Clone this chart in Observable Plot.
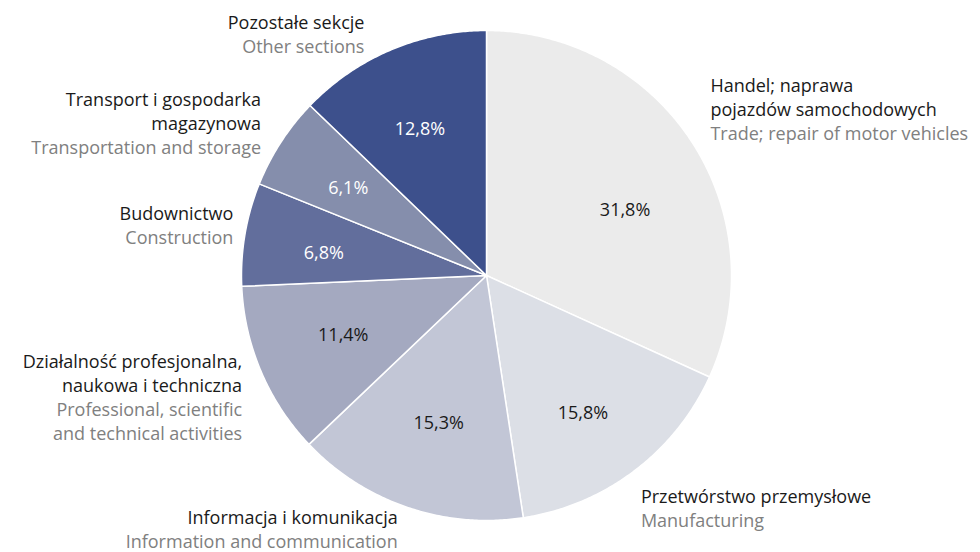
<!DOCTYPE html>
<html>
<head>
<meta charset="utf-8">
<script src="https://cdn.jsdelivr.net/npm/d3@7"></script>
<script src="https://cdn.jsdelivr.net/npm/@observablehq/plot@0.6"></script>
<style>
  html, body { margin: 0; padding: 0; background: #fff; }
  #chart svg { display: block; }
</style>
</head>
<body>
<div id="chart"></div>
<script>
// ---- data ----
const namesPl = [
  "Handel; naprawa\npojazdów samochodowych",
  "Przetwórstwo przemysłowe",
  "Informacja i komunikacja",
  "Działalność profesjonalna,\nnaukowa i techniczna",
  "Budownictwo",
  "Transport i gospodarka\nmagazynowa",
  "Pozostałe sekcje"
];
const namesEn = [
  "Trade; repair of motor vehicles",
  "Manufacturing",
  "Information and communication",
  "Professional, scientific\nand technical activities",
  "Construction",
  "Transportation and storage",
  "Other sections"
];
const shares = [31.8, 15.8, 15.3, 11.4, 6.8, 6.1, 12.8];
const sliceColors = ["#ebebeb", "#dcdfe6", "#c2c6d6", "#a4a9c0", "#626e9c", "#858eac", "#3d508c"];
const valueColors = ["#1a1a1a", "#1a1a1a", "#1a1a1a", "#1a1a1a", "#ffffff", "#ffffff", "#ffffff"];

// ---- layout ----
const W = 980, H = 552;
const cx = 486, cy = 275, R = 245;
const valueR = 160, labelR = 271;
const FS = 18, LH = 24 / 18;
// small per-label nudges (pixels) from the computed anchor positions
const valueNudge = [[4, 21], [0, 10], [4, -4], [4, -3], [-5, 5], [-4, 0], [-4, 1]];
const labelNudge = [[-4, -21], [-9, 16], [-1, -4], [5, 15], [14, -5], [2, -6], [-16, 7]];

const pie = d3.pie().sort(null).value(d => d)(shares);
const keys = shares.map((_, i) => "s" + i);

// slice polygons
const poly = [];
pie.forEach((p, i) => {
  poly.push({k: keys[i], x: cx, y: cy});
  const n = Math.max(4, Math.ceil((p.endAngle - p.startAngle) / (Math.PI / 360)));
  for (let j = 0; j <= n; j++) {
    const a = p.startAngle + (p.endAngle - p.startAngle) * j / n;
    poly.push({k: keys[i], x: cx + R * Math.sin(a), y: cy - R * Math.cos(a)});
  }
});

const fmt = v => v.toFixed(1).replace(".", ",") + "%";
const labels = pie.map((p, i) => {
  const a = (p.startAngle + p.endAngle) / 2;
  const pl = namesPl[i].split("\n").length;
  const en = namesEn[i].split("\n").length;
  return {
    vx: cx + valueR * Math.sin(a) + valueNudge[i][0], vy: cy - valueR * Math.cos(a) + valueNudge[i][1],
    lx: cx + labelR * Math.sin(a) + labelNudge[i][0], ly: cy - labelR * Math.cos(a) + labelNudge[i][1],
    anchor: Math.sin(a) >= 0 ? "start" : "end",
    pl: namesPl[i] + "\n".repeat(en),
    en: "\n".repeat(pl) + namesEn[i],
    val: fmt(shares[i]),
    vc: valueColors[i]
  };
});

const font = "'Open Sans', sans-serif";
const side = s => labels.filter(d => d.anchor === s);
const chart = Plot.plot({
  width: W, height: H,
  margin: 0,
  x: {domain: [0, W], range: [0, W], axis: null},
  y: {domain: [0, H], range: [0, H], axis: null},
  color: {domain: keys, range: sliceColors},
  style: {fontFamily: font, background: "#fff"},
  marks: [
    Plot.line(poly, {x: "x", y: "y", z: "k", fill: "k", stroke: "#fff", strokeWidth: 1.5, curve: "linear-closed"}),
    Plot.text(labels, {x: "vx", y: "vy", text: "val", fill: "vc", fontSize: FS, fontFamily: font}),
    ...["start", "end"].flatMap(s => [
      Plot.text(side(s), {x: "lx", y: "ly", text: "pl", textAnchor: s, lineAnchor: "middle", lineHeight: LH, fill: "#1a1a1a", fontSize: FS, fontFamily: font}),
      Plot.text(side(s), {x: "lx", y: "ly", text: "en", textAnchor: s, lineAnchor: "middle", lineHeight: LH, fill: "#808080", fontSize: FS, fontFamily: font})
    ])
  ]
});
document.getElementById("chart").appendChild(chart);
</script>
</body>
</html>
